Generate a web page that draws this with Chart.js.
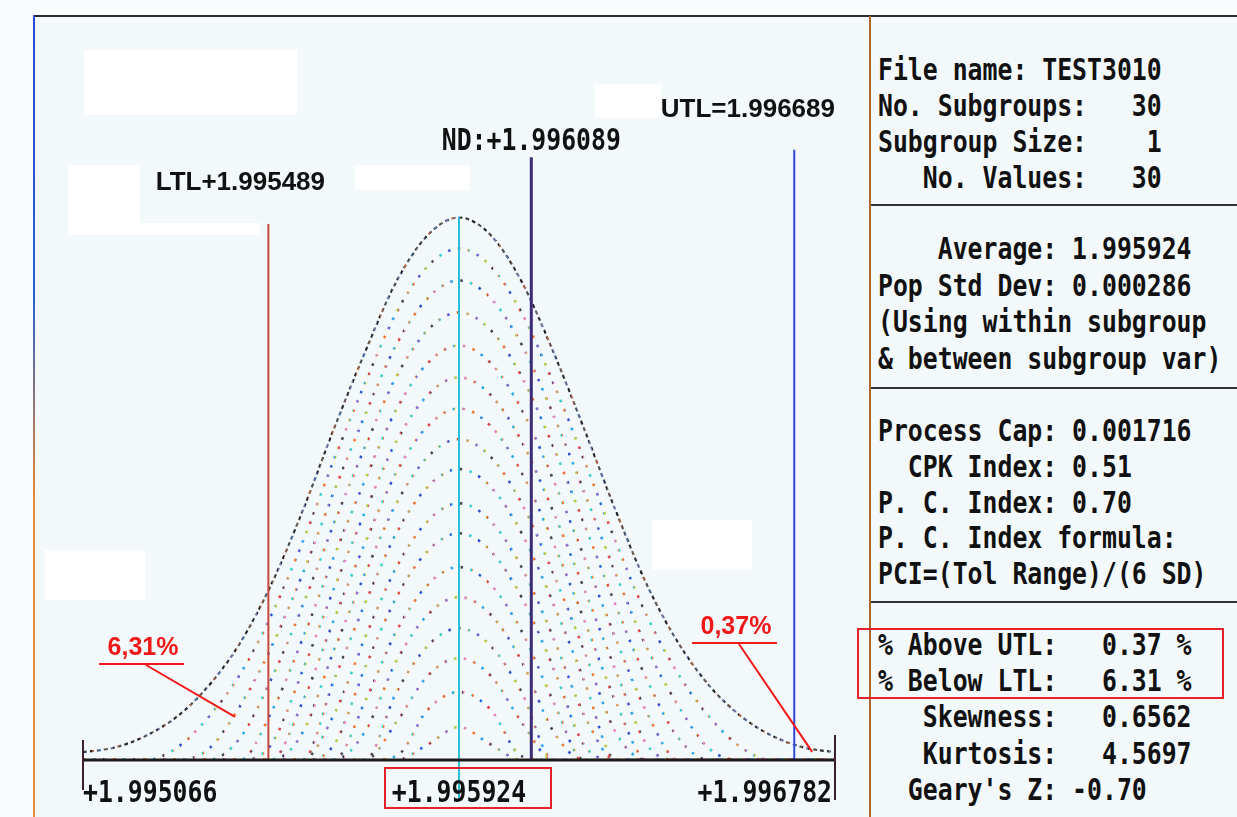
<!DOCTYPE html>
<html>
<head>
<meta charset="utf-8">
<title>Process capability - TEST3010</title>
<script src="https://cdn.jsdelivr.net/npm/chart.js@4/dist/chart.umd.min.js"></script>
<style>
  body { margin: 0; width: 1237px; height: 817px; overflow: hidden; position: relative; background: #f8fcfd; }
  #frame { position: absolute; left: 33px; top: 15px; width: 1204px; height: 802px; background: #f3f9fb; border-top: 2px solid #2b2b2b; }
  #leftEdge { position: absolute; left: 33px; top: 15px; width: 2px; height: 802px; background: linear-gradient(#2a48d0, #2a60d0 35%, #e88a30 60%, #e88a30); }
  #divider { position: absolute; left: 869px; top: 16px; width: 2px; height: 801px; background: #a8682e; }
  .rule { position: absolute; left: 871px; width: 366px; height: 2px; background: #333; }
  #plotWrap { position: absolute; left: 0; top: 0; width: 870px; height: 817px; }
  .blk { position: absolute; left: 878px; margin: 0; font: bold 31px "DejaVu Sans Mono", monospace; color: #111;
         transform: scaleX(0.8); transform-origin: 0 0; white-space: pre; }
  #hiBox { position: absolute; left: 857px; top: 628px; width: 363px; height: 67px; border: 2px solid #e8202a; }
</style>
</head>
<body>
<div id="frame"></div>
<div id="leftEdge"></div>
<div id="divider"></div>
<div class="rule" style="top:204px"></div>
<div class="rule" style="top:387px"></div>
<div class="rule" style="top:601px"></div>

<div id="plotWrap"><canvas id="myChart"></canvas></div>

<pre class="blk" style="top:51px;line-height:36px">File name: TEST3010
No. Subgroups:   30
Subgroup Size:    1
   No. Values:   30</pre>
<pre class="blk" style="top:230px;line-height:36.7px">    Average: 1.995924
Pop Std Dev: 0.000286
(Using within subgroup
&amp; between subgroup var)</pre>
<pre class="blk" style="top:413px;line-height:35.8px">Process Cap: 0.001716
  CPK Index: 0.51
P. C. Index: 0.70
P. C. Index formula:
PCI=(Tol Range)/(6 SD)</pre>
<pre class="blk" style="top:626px;line-height:36.2px">% Above UTL:   0.37 %
% Below LTL:   6.31 %
   Skewness:   0.6562
   Kurtosis:   4.5697
  Geary's Z: -0.70</pre>
<div id="hiBox"></div>

<script>
// measurement axis (mean +/- 3 sigma)
const axisMin = 1.995066;
const axisMax = 1.996782;
const axisLabels = ['+1.995066', '+1.995924', '+1.996782'];

// fitted curve
const xValues = [1.995066, 1.995138, 1.995209, 1.995281, 1.995352, 1.995424, 1.995495, 1.995567, 1.995638,
                 1.995710, 1.995781, 1.995853, 1.995924, 1.995996, 1.996067, 1.996139, 1.996210, 1.996282,
                 1.996353, 1.996425, 1.996496, 1.996568, 1.996639, 1.996711, 1.996782];
const density = [20, 32, 62, 112, 190, 300, 450, 640, 850, 1050, 1230, 1350, 1395,
                 1350, 1230, 1050, 850, 640, 450, 300, 190, 112, 62, 32, 20];
// peak heights of the dotted arcs inside the curve (each arc is the curve lowered to that peak)
const contourPeaks = [1315, 1233, 1151, 1066, 984, 904, 825, 748, 660, 583, 496, 419, 339, 262, 175, 85];

// spec limits and reference lines
const limitNames = ['LTL', 'ND', 'Average', 'UTL'];
const limitValues = [1.995489, 1.996089, 1.995924, 1.996689];
const limitTops = [1378, 1550, 1395, 1569];
const limitColors = ['#c8483a', '#3c2c78', '#28c0d8', '#3048e0'];
const limitLabels = ['LTL+1.995489', 'ND:+1.996089', '', 'UTL=1.996689'];

// tail percentages
const tailText = ['6,31%', '0,37%'];
const tailAnchorX = [1.995203, 1.996556];
const tailAnchorY = [288, 342];
const tailTargetX = [1.995413, 1.996730];
const tailTargetY = [111, 21];

const peak = Math.max(...density);
const palette = ['#f07a30', '#30a8f0', '#444455', '#3cd0d0', '#3050d0', '#e04848', '#d0a060', '#9070c8', '#b8c840', '#e088c0'];
const darkPalette = ['#303038', '#6a5a50', '#2a2a30', '#4a6aa0', '#505050', '#a06040', '#202028', '#7070a0'];

const gradients = {};
function dotColors(pal, key) {
    return function (context) {
        const chart = context.chart;
        const area = chart.chartArea;
        if (!area) return '#888';
        if (!gradients[key]) {
            const g = chart.ctx.createLinearGradient(area.left, 0, area.right, 0);
            const n = Math.round((area.right - area.left) / 3);
            for (let k = 0; k < n; k++) {
                const c = pal[(k * 7) % pal.length];
                g.addColorStop(k / n, c);
                g.addColorStop((k + 1) / n - 0.0001, c);
            }
            gradients[key] = g;
        }
        return gradients[key];
    };
}

function pixFont(ctx, text, x, y, align, color) {
    ctx.save();
    ctx.translate(x, y);
    ctx.scale(0.8, 1);
    ctx.font = 'bold 31px "DejaVu Sans Mono"';
    ctx.textAlign = align;
    ctx.textBaseline = 'middle';
    ctx.fillStyle = color || '#111';
    ctx.fillText(text, 0, 0);
    ctx.restore();
}

const datasets = [];

// reference lines first so they sit on top
limitValues.forEach((v, i) => {
    datasets.push({
        label: limitNames[i],
        data: [{ x: v, y: limitNames[i] === 'Average' ? -103 : 0 }, { x: v, y: limitTops[i] }],
        borderColor: limitColors[i],
        borderWidth: limitNames[i] === 'ND' ? 3 : 2,
        pointRadius: 0,
        clip: false
    });
});

// outer curve
datasets.push({
    label: 'curve',
    data: xValues.map((x, i) => ({ x: x, y: density[i] })),
    borderColor: dotColors(darkPalette, 'dark'),
    borderWidth: 2.2,
    borderDash: [4, 3],
    pointRadius: 0,
    cubicInterpolationMode: 'monotone'
});

// dotted arcs
contourPeaks.forEach((p) => {
    const drop = peak - p;
    datasets.push({
        label: 'arc ' + p,
        data: xValues.map((x, i) => ({ x: x, y: Math.max(0, density[i] - drop) })),
        borderColor: dotColors(palette, 'light'),
        borderWidth: 2.6,
        borderDash: [2.6, 7.4],
        pointRadius: 0,
        cubicInterpolationMode: 'monotone'
    });
});

const decor = {
    id: 'decor',
    beforeDatasetsDraw(chart) {
        const ctx = chart.ctx;
        ctx.save();
        ctx.fillStyle = '#ffffff';
        [[84, 50, 213, 65], [68, 165, 72, 58], [68, 223, 192, 12], [355, 165, 115, 25],
         [595, 84, 66, 34], [45, 550, 100, 50], [652, 520, 100, 50]].forEach(r => ctx.fillRect(r[0], r[1], r[2], r[3]));
        ctx.restore();
    },
    afterDatasetsDraw(chart) {
        const ctx = chart.ctx;
        const xs = chart.scales.x, ys = chart.scales.y;
        const base = ys.getPixelForValue(0);
        const left = xs.getPixelForValue(axisMin), right = xs.getPixelForValue(axisMax);
        ctx.save();

        // axis
        ctx.strokeStyle = '#1e1a1a';
        ctx.lineWidth = 3;
        ctx.beginPath(); ctx.moveTo(left, base); ctx.lineTo(right, base); ctx.stroke();
        ctx.strokeStyle = '#3a2030';
        ctx.lineWidth = 2;
        ctx.beginPath();
        ctx.moveTo(left, base - 20); ctx.lineTo(left, base + 30);
        ctx.moveTo(right, base - 25); ctx.lineTo(right, base + 40);
        ctx.stroke();

        // axis labels
        const mid = xs.getPixelForValue(limitValues[2]);
        pixFont(ctx, axisLabels[0], left, base + 34, 'left');
        pixFont(ctx, axisLabels[1], mid, base + 34, 'center');
        pixFont(ctx, axisLabels[2], right - 3, base + 34, 'right');
        ctx.strokeStyle = '#e8202a';
        ctx.lineWidth = 2;
        ctx.strokeRect(mid - 74, base + 8, 166, 40);

        // limit labels
        ctx.fillStyle = '#111';
        ctx.font = 'bold 26px "Liberation Sans"';
        ctx.textBaseline = 'middle';
        const ltlX = xs.getPixelForValue(limitValues[0]);
        ctx.textAlign = 'center';
        ctx.fillText(limitLabels[0], ltlX - 28, ys.getPixelForValue(limitTops[0]) - 41);
        ctx.textAlign = 'right';
        ctx.fillText(limitLabels[3], right, ys.getPixelForValue(limitTops[3]) - 40);
        pixFont(ctx, limitLabels[1], xs.getPixelForValue(limitValues[1]), ys.getPixelForValue(limitTops[1]) - 15, 'center');

        // tail percentages
        ctx.font = 'bold 25px "Liberation Sans"';
        ctx.textAlign = 'center';
        ctx.fillStyle = '#f01818';
        ctx.strokeStyle = '#f01818';
        ctx.lineWidth = 2;
        tailText.forEach((t, i) => {
            const ax = xs.getPixelForValue(tailAnchorX[i]);
            const ay = ys.getPixelForValue(tailAnchorY[i]);
            ctx.fillText(t, ax, ay);
            ctx.beginPath();
            ctx.moveTo(ax - 44, ay + 16); ctx.lineTo(ax + 41, ay + 16);
            ctx.moveTo(ax + 3, ay + 17);
            ctx.lineTo(xs.getPixelForValue(tailTargetX[i]), ys.getPixelForValue(tailTargetY[i]));
            ctx.stroke();
        });
        ctx.restore();
    }
};

const ctx = document.getElementById('myChart').getContext('2d');
const myChart = new Chart(ctx, {
    type: 'line',
    data: { datasets: datasets },
    options: {
        responsive: true,
        maintainAspectRatio: false,
        animation: false,
        layout: { padding: { left: 83, right: 35, top: 60, bottom: 57 } },
        plugins: {
            legend: { display: false },
            tooltip: { enabled: false },
            title: { display: false }
        },
        scales: {
            x: { type: 'linear', min: axisMin, max: axisMax, display: false },
            y: { min: 0, max: 1800, display: false }
        }
    },
    plugins: [decor]
});
</script>
</body>
</html>
